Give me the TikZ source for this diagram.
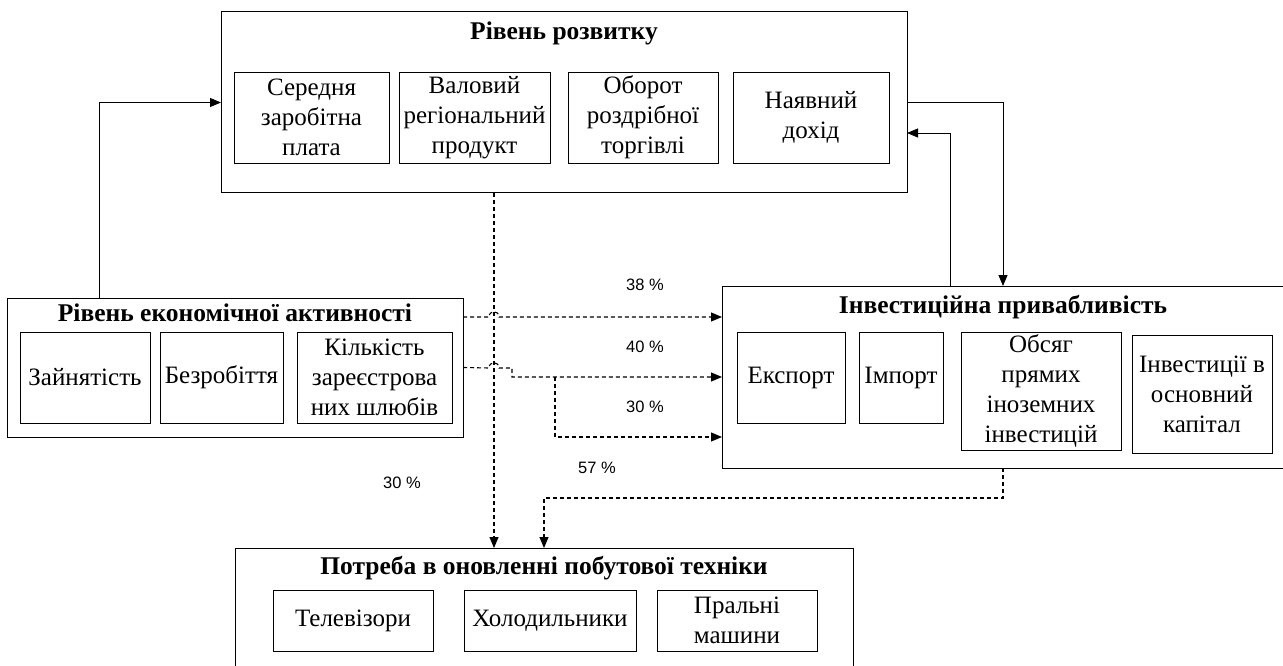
\documentclass[tikz,border=0pt]{standalone}
\usepackage{fontspec}
\setmainfont{Liberation Serif}
\newfontfamily\pctfont{Liberation Sans}
\usetikzlibrary{arrows.meta}
\begin{document}
\begin{tikzpicture}[x=1pt,y=-1pt,
    every node/.style={inner sep=0pt,outer sep=0pt},
    group/.style={draw,line width=1pt,anchor=north west},
    item/.style={draw,line width=0.9pt,align=center,font=\fontsize{25}{30}\selectfont},
    head/.style={font=\fontsize{25.5}{30}\selectfont\bfseries},
    pct/.style={font=\pctfont\fontsize{16.5}{20}\selectfont},
    arr/.style={line width=0.9pt,-{Triangle[length=11pt,width=9pt]}},
    darr/.style={arr,line width=1.1pt,dash pattern=on 4pt off 3pt}]
    \useasboundingbox (0,0) rectangle (1283,666);
    \node[group,minimum width=686pt,minimum height=181pt] (dev) at (221,12) {};
    \node[head] (devT) at ([yshift=-21pt]dev.north) {Рівень розвитку};
    \node[item,minimum width=155pt,minimum height=91pt] (wage) at (311.5,117.5) {Середня\\заробітна\\плата};
    \node[item,minimum width=151pt,minimum height=91pt] (grp) at (474.5,117.5) {Валовий\\регіональний\\продукт};
    \node[item,minimum width=150pt,minimum height=91pt] (trade) at (643,117.5) {Оборот\\роздрібної\\торгівлі};
    \node[item,minimum width=156pt,minimum height=91pt] (income) at (811,117.5) {Наявний\\дохід};

    \node[group,minimum width=456pt,minimum height=139pt] (act) at (7,298) {};
    \node[head] (actT) at ([yshift=-15pt]act.north) {Рівень економічної активності};
    \node[item,minimum width=130pt,minimum height=91pt] (empl) at (85,377.5) {Зайнятість};
    \node[item,minimum width=123pt,minimum height=91pt] (unempl) at (221.5,377.5) {Безробіття};
    \node[item,minimum width=155pt,minimum height=91pt] (marr) at (374.5,377.5) {Кількість\\зареєстрова\\них шлюбів};

    \node[group,minimum width=562pt,minimum height=182pt] (inv) at (722,286) {};
    \node[head] (invT) at ([yshift=-21pt]inv.north) {Інвестиційна привабливість};
    \node[item,minimum width=108pt,minimum height=91pt] (exp) at (791,377.5) {Експорт};
    \node[item,minimum width=84pt,minimum height=91pt] (imp) at (901,377.5) {Імпорт};
    \node[item,minimum width=160pt,minimum height=118pt] (fdi) at (1041,391) {Обсяг\\прямих\\іноземних\\інвестицій};
    \node[item,minimum width=140pt,minimum height=118pt] (cap) at (1202,394) {Інвестиції в\\основний\\капітал};

    \node[group,minimum width=618pt,minimum height=130pt] (need) at (235,548) {};
    \node[head] (needT) at ([yshift=-20pt]need.north) {Потреба в оновленні побутової техніки};
    \node[item,minimum width=160pt,minimum height=61pt] (tv) at (353,620.5) {Телевізори};
    \node[item,minimum width=172pt,minimum height=61pt] (fridge) at (550,620.5) {Холодильники};
    \node[item,minimum width=160pt,minimum height=61pt] (wash) at (737,620.5) {Пральні\\машини};

    \draw[arr] (act.north -| 99,0) |- (dev.west);
    \draw[arr] (dev.east) -| (inv.north);
    \draw[arr] (inv.north -| 950,0) |- (dev.east |- 0,133);
    \draw[darr] (dev.south -| 494,0) -- (need.north -| 494,0);
    \draw[darr] (act.east |- 0,317) -- (489,317) .. controls (489,310) and (499,310) .. (499,317) -- (inv.west |- 0,317);
    \draw[darr] (act.east) -- (489,368) .. controls (489,361) and (499,361) .. (499,368) -- (512,368) -- (512,377) -- (inv.west |- 0,377);
    \coordinate (split) at (555,377);
    \draw[darr] (split) |- (inv.west |- 0,437);
    \draw[darr] (inv.south) -- (inv.south |- 0,498) -| (need.north);

    \node[pct] (p38) at (645,285) {38 \%};
    \node[pct] (p40) at (645,347) {40 \%};
    \node[pct] (p30a) at (645,407) {30 \%};
    \node[pct] (p57) at (597,468) {57 \%};
    \node[pct] (p30b) at (402,483) {30 \%};
\end{tikzpicture}
\end{document}
